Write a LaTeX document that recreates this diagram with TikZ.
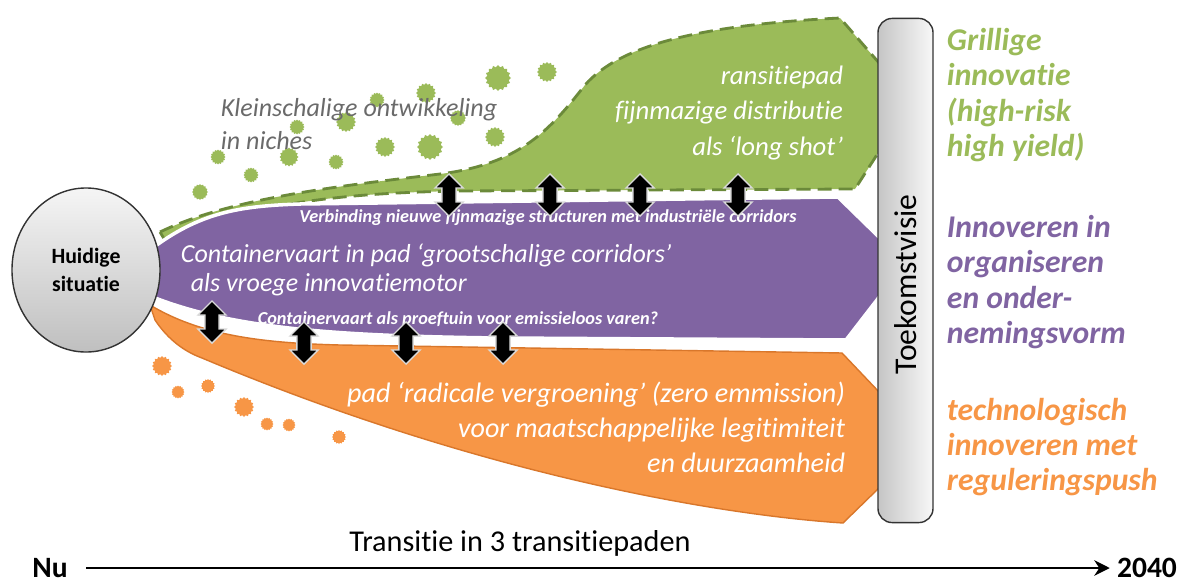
\documentclass[tikz,border=0pt]{standalone}
\usepackage{fontspec}
\setmainfont{Carlito}[Ligatures=NoCommon]
\usetikzlibrary{shapes.geometric,shapes.arrows,positioning,arrows.meta}
\definecolor{groen}{HTML}{9BBB59}
\definecolor{donkergroen}{HTML}{6B8A3A}
\definecolor{paars}{HTML}{8064A2}
\definecolor{oranje}{HTML}{F79646}
\definecolor{donkeroranje}{HTML}{D9772B}
\definecolor{grijstekst}{HTML}{6A6A6A}
\tikzstyle{bel}=[star,star points=16,star point ratio=1.2,inner sep=0pt]
\tikzstyle{pijl}=[double arrow,rotate=90,fill=black,draw=white!70!gray,
  line width=1pt,inner sep=3.6pt,minimum height=1.05cm,minimum width=0.7cm,
  double arrow head extend=0.14cm]
\tikzstyle{padtekst}=[text=white,font=\fontsize{19}{25}\selectfont\itshape]
\tikzstyle{kleintekst}=[text=white,font=\fontsize{13}{15}\selectfont\bfseries\itshape]
\tikzstyle{zijtekst}=[anchor=west,align=left,font=\fontsize{22.5}{25}\selectfont\bfseries\itshape]

\begin{document}
\begin{tikzpicture}[x=0.025cm,y=-0.025cm,>={Stealth[length=11pt,width=11pt]}]
  \useasboundingbox (0,0) rectangle (1184,585);

  \draw[fill=groen,draw=donkergroen,line width=2pt,dash pattern=on 10pt off 5pt]
    (160,232) .. controls (230,198) and (340,186) .. (440,174)
    .. controls (520,164) and (550,130) .. (585,85)
    .. controls (620,45) and (700,25) .. (840,18) -- (880,64) -- (880,150)
    -- (855,189) -- (460,191) .. controls (330,193) and (240,206) .. (166,242) -- cycle;
  \draw[fill=paars,draw=white,line width=2.5pt]
    (150,250) .. controls (200,212) and (240,206) .. (300,204) -- (838,197)
    -- (880,238) -- (880,296) -- (846,340) -- (500,338)
    .. controls (330,336) and (230,328) .. (150,296) -- cycle;
  \draw[fill=oranje,draw=donkeroranje,line width=1pt]
    (150,305) .. controls (200,335) and (260,343) .. (340,345) -- (842,353)
    -- (880,393) -- (880,487) -- (843,523)
    .. controls (720,515) and (480,475) .. (202,358)
    .. controls (180,350) and (165,335) .. (155,320) -- cycle;

  \foreach \x/\y/\d in {200/192/16,218/157/15,251/175/15,289/157/19,297/127/15,
    336/162/15,346/122/20,385/147/20,377/100/15,426/93/20,430/147/26,
    458/118/16,498/78/26,547/72/20,495/137/20}{
    \pgfmathsetmacro\dd{\d*0.025}
    \node[bel,fill=groen,minimum size=\dd cm] at (\x,\y) {};
  }
  \foreach \x/\y/\d in {162/366/20,178/392/13,208/386/14,244/407/20,
    267/424/13,289/425/13,339/437/14}{
    \pgfmathsetmacro\dd{\d*0.025}
    \node[bel,fill=oranje,minimum size=\dd cm] at (\x,\y) {};
  }
  \node[text=grijstekst,align=left,anchor=west,
    font=\fontsize{18.5}{23}\selectfont\itshape] (niches) at (216,124)
    {Kleinschalige ontwikkeling\\in niches};

  \node[padtekst,align=right,anchor=east] (longshot) at (848,113)
    {ransitiepad\\fijnmazige distributie\\als ‘long shot’};
  \node[padtekst,align=left,anchor=west,font=\fontsize{18.5}{21}\selectfont\itshape]
    (corridors) at (176,270)
    {Containervaart in pad ‘grootschalige corridors’\\\hspace{7pt}als vroege innovatiemotor};
  \node[padtekst,align=right,anchor=east,font=\fontsize{20}{25}\selectfont\itshape]
    (radicaal) at (850,427)
    {pad ‘radicale vergroening’ (zero emmission)\\voor maatschappelijke legitimiteit\\en duurzaamheid};
  \node[kleintekst] (verbinding) at (548,218)
    {Verbinding nieuwe fijnmazige structuren met industriële corridors};
  \node[kleintekst] (proeftuin) at (458,320)
    {Containervaart als proeftuin voor emissieloos varen?};

  \foreach \x in {449,550,640,738}
    \node[pijl] at (\x,195) {};
  \node[pijl] at (212,322) {};
  \foreach \x in {304,406,503}
    \node[pijl] at (\x,343) {};

  \node[ellipse,draw=black!80,line width=1pt,top color=gray!8,bottom color=gray!50,
    minimum width=3.7cm,minimum height=4.1cm,align=center,
    font=\fontsize{15.5}{20}\selectfont\bfseries] (huidig) at (86,270)
    {Huidige\\situatie};

  \node[rectangle,rounded corners=10pt,draw=black!80,line width=1pt,rotate=90,
    left color=gray!45,right color=gray!6,minimum width=12.6cm,
    minimum height=1.375cm,font=\fontsize{22.5}{26}\selectfont] (visie) at (905.5,270.5)
    {Toekomstvisie\hspace*{20pt}};

  \node[zijtekst,text=groen] (grillig) at (942,95)
    {Grillige\\innovatie\\(high-risk\\high yield)};
  \node[zijtekst,text=paars] (organiseren) at (942,282)
    {Innoveren in\\organiseren\\en onder-\\nemingsvorm};
  \node[zijtekst,text=oranje] (regulering) at (942,447)
    {technologisch\\innoveren met\\reguleringspush};

  \node[inner sep=1pt,font=\fontsize{21}{23}\selectfont\bfseries] (nu) at (50,568) {Nu};
  \node[inner sep=1pt,font=\fontsize{21}{23}\selectfont\bfseries] (jaar) at (1147,568) {2040};
  \draw[->,line width=2pt,shorten <=12pt,shorten >=4pt] (nu) -- (jaar);
  \node[font=\fontsize{21.5}{24}\selectfont] (transitie) at (520,543)
    {Transitie in 3 transitiepaden};
\end{tikzpicture}
\end{document}
